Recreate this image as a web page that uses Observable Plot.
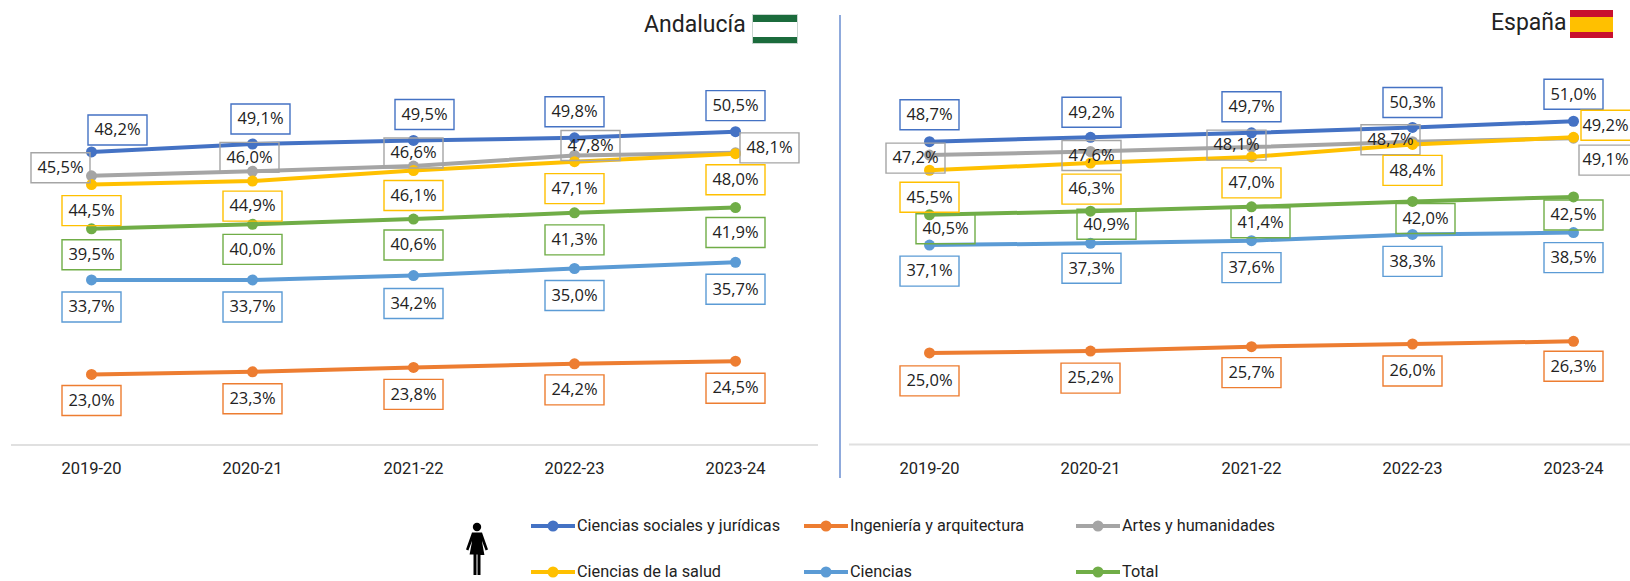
<!DOCTYPE html>
<html lang="es"><head><meta charset="utf-8">
<script src="https://cdn.jsdelivr.net/npm/d3@7"></script>
<script src="https://cdn.jsdelivr.net/npm/@observablehq/plot@0.6"></script>
<style>
html,body{margin:0;padding:0;background:#fff;overflow:hidden}
#page{position:relative;width:1630px;height:581px;overflow:hidden;font-family:Roboto,sans-serif;color:#222}
#page>div,#page>svg{position:absolute}
.t{font-size:23px;line-height:26px}
.l{font-size:16.300px;line-height:14px;white-space:nowrap}
</style></head><body><div id="page"></div>
<script>
const years = ["2019-20","2020-21","2021-22","2022-23","2023-24"];
const names = ["Ciencias sociales y jurídicas","Ingeniería y arquitectura","Artes y humanidades","Ciencias de la salud","Ciencias","Total"];
const colors = ["#4472c4","#ed7d31","#a5a5a5","#ffc000","#5b9bd5","#70ad47"];

const andalucia = [
  [48.2,49.1,49.5,49.8,50.5],
  [23.0,23.3,23.8,24.2,24.5],
  [45.5,46.0,46.6,47.8,48.1],
  [44.5,44.9,46.1,47.1,48.0],
  [33.7,33.7,34.2,35.0,35.7],
  [39.5,40.0,40.6,41.3,41.9]
];
const espana = [
  [48.7,49.2,49.7,50.3,51.0],
  [25.0,25.2,25.7,26.0,26.3],
  [47.2,47.6,48.1,48.7,49.1],
  [45.5,46.3,47.0,48.4,49.2],
  [37.1,37.3,37.6,38.3,38.5],
  [40.5,40.9,41.4,42.0,42.5]
];
// label placement relative to each point, in pixels
const andaluciaOffsets = [
  [[26,-22],[8,-25],[11,-26],[0,-26],[0,-26]],
  [[0,26],[0,27],[0,27],[0,26],[0,27]],
  [[-31,-8],[-3,-14],[0,-13],[16,-10],[34,-5]],
  [[0,26],[0,25],[0,25],[0,27],[0,26]],
  [[0,27],[0,27],[0,28],[0,27],[0,27]],
  [[0,26],[0,25],[0,26],[0,27],[0,25]]
];
const espanaOffsets = [
  [[0,-27],[1,-25],[0,-26],[0,-25],[0,-27]],
  [[0,28],[0,27],[0,26],[0,27],[0,25]],
  [[-14,3],[1,4],[-15,-2],[-22,-2],[35,22]],
  [[0,27],[1,26],[0,26],[0,26],[37,-12]],
  [[0,26],[1,25],[0,27],[0,27],[0,25]],
  [[16,14],[16,13],[9,16],[13,17],[0,18]]
];

const box = {draw(c){c.rect(-29.5,-15,59,30);}};
const fmt = v => v.toFixed(1).replace(".",",")+"%";

function panel(values, offsets, o){
  const rows = values.flatMap((s,i)=>s.map((v,j)=>({year:years[j],value:v,series:names[i],color:colors[i],off:offsets[i][j]})));
  const marks = [
    Plot.ruleY([o.base],{stroke:"#e0e0e0",strokeWidth:2}),
    Plot.axisX({tickSize:0,tickPadding:o.pad,fontSize:16.5,fontFamily:"Roboto,sans-serif",label:null,fill:"#222"})
  ];
  names.forEach((n,i)=>{
    const d = rows.filter(r=>r.series===n);
    marks.push(Plot.line(d,{x:"year",y:"value",stroke:colors[i],strokeWidth:4}));
    marks.push(Plot.dot(d,{x:"year",y:"value",fill:colors[i],r:5.5}));
  });
  rows.forEach(r=>{
    marks.push(Plot.dot([r],{x:"year",y:"value",symbol:box,r:5,fill:"none",stroke:r.color,strokeWidth:1.4,dx:r.off[0],dy:r.off[1]}));
    // the text stays inside the page even where its box runs off the right edge
    marks.push(Plot.text([r],{x:"year",y:"value",text:d=>fmt(d.value),dx:Math.min(r.off[0],o.maxTextDx),dy:r.off[1],fontSize:o.font,fontFamily:"'Open Sans',sans-serif",fill:"#222"}));
  });
  return Plot.plot({
    width:o.width,height:490,marginLeft:o.left,marginRight:0,marginTop:0,marginBottom:46,
    style:{background:"transparent",overflow:"visible"},
    x:{type:"point",padding:0,domain:years,range:o.xr},
    y:{domain:o.yd,range:o.yr,axis:null},
    marks
  });
}

const page = document.getElementById("page");
function place(el,x,y){el.style.left=x+"px";el.style.top=y+"px";page.appendChild(el);return el;}

place(panel(andalucia,andaluciaOffsets,{width:818,left:11,xr:[90.5,735],yd:[15,65],yr:[444.6,3.1],base:15,pad:18,font:16.5,maxTextDx:99}),0,0);
place(panel(espana,espanaOffsets,{width:790,left:9,xr:[88.5,733],yd:[14.72,65],yr:[444,-4],base:14.72,pad:18,font:16.5,maxTextDx:32}),840,0);

function html(s){const t=document.createElement("template");t.innerHTML=s.trim();return t.content.firstChild;}
// separator
place(html('<div style="width:2px;height:463px;background:#8faadc"></div>'),839,15);
// titles
place(html('<div class="t">Andalucía</div>'),644,12);
place(html('<div class="t">España</div>'),1491,10);
// flags
place(html('<svg width="46" height="30"><rect width="46" height="30" fill="#fff"/><rect width="46" height="8" fill="#1b6b3c"/><rect y="23" width="46" height="7" fill="#1b6b3c"/><rect x=".5" y=".5" width="45" height="29" fill="none" stroke="#c9d6d0"/></svg>'),752,14);
place(html('<svg width="43" height="28"><rect width="43" height="28" fill="#c8102e"/><rect y="7" width="43" height="15" fill="#ffc000"/></svg>'),1570,10);
// woman icon
place(html('<svg width="26" height="54" viewBox="0 0 26 54" fill="#000"><circle cx="13" cy="5" r="4.2"/><path d="M8 10.500h10l6 17-2.400 1-3.800-10 2.600 14.500H16.500V53h-3V32.500h-1V53h-3V32.500H5.600L8.200 18.500l-3.800 10-2.400-1z"/></svg>'),464,522);
// legend
const cols=[530,803,1075], legRows=[526,572];
names.forEach((n,i)=>{
  const x=cols[i%3], y=legRows[Math.floor(i/3)];
  place(html(`<svg width="46" height="14"><line x1="1" x2="45" y1="7" y2="7" stroke="${colors[i]}" stroke-width="4"/><circle cx="23" cy="7" r="5.500" fill="${colors[i]}"/></svg>`),x,y-7);
  place(html(`<div class="l">${n}</div>`),x+47,y-7);
});
</script></body></html>
